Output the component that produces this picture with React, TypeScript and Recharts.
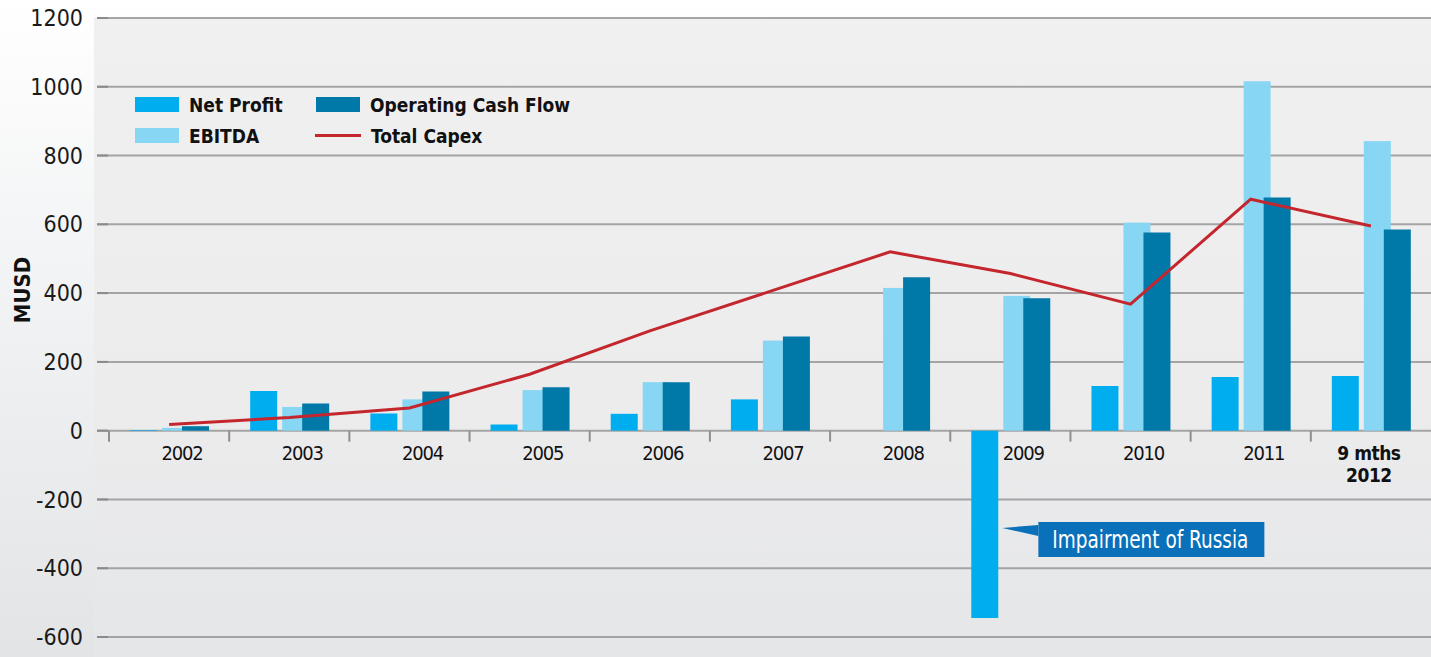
import React from 'react';
import {
  ComposedChart,
  Bar,
  Line,
  XAxis,
  YAxis,
  CartesianGrid,
  Legend,
  ReferenceDot,
  Label,
} from 'recharts';

// ---------- data ----------
const categories = ['2002', '2003', '2004', '2005', '2006', '2007', '2008', '2009', '2010', '2011', '9 mths\n2012'];
const netProfit = [2, 115, 50, 18, 49, 91, 0, -545, 130, 156, 159];
const ebitda = [8, 69, 91, 118, 141, 262, 415, 392, 605, 1016, 842];
const operatingCashFlow = [13, 79, 114, 126, 141, 274, 446, 385, 576, 678, 585];
const totalCapex = [18, 38, 66, 164, 290, 405, 520, 457, 368, 673, 595];
const yTicks = [-600, -400, -200, 0, 200, 400, 600, 800, 1000, 1200];
const annotationText = 'Impairment of Russia';
const annotationCategory = '2009';
const annotationValue = -283;
const legendOrder = ['netProfit', 'ebitda', 'operatingCashFlow', 'totalCapex'];

const data = categories.map((c, i) => ({
  category: c,
  netProfit: netProfit[i],
  ebitda: ebitda[i],
  operatingCashFlow: operatingCashFlow[i],
  totalCapex: totalCapex[i],
}));

// ---------- layout / style ----------
const W = 1431;
const H = 657;
const Y_AXIS_W = 97;
const X_PAD_LEFT = 12;
const HALF_BAND = (W - Y_AXIS_W - X_PAD_LEFT) / categories.length / 2;

const NARROW = '"Liberation Sans Narrow", "Arial Narrow", "DejaVu Sans Condensed", sans-serif';
const COND = '"DejaVu Sans Condensed", "DejaVu Sans", sans-serif';

const C_NP = '#00aeef';
const C_EBITDA = '#87d6f3';
const C_OCF = '#0079a8';
const C_CAPEX = '#c4262e';
const C_NOTE = '#0a70b9';

const CategoryTick = (props: any) => {
  const { cx, cy, label } = props;
  const lines = String(label).split('\n');
  const multi = lines.length > 1;
  const tx = multi ? cx - 2 : cx + 13;
  return (
    <g>
      <line x1={cx - HALF_BAND} x2={cx - HALF_BAND} y1={cy} y2={cy + 11} stroke="#8f8f8f" strokeWidth={2} />
      {lines.map((l, i) => (
        <text
          key={i}
          x={tx}
          y={cy + 29 + i * 22}
          textAnchor="middle"
          fontFamily={COND}
          fontSize={multi ? 19 : 20}
          letterSpacing={multi ? -0.5 : -1.2}
          fontWeight={multi ? 'bold' : 'normal'}
          fill="#111"
        >
          {l}
        </text>
      ))}
    </g>
  );
};

const Annotation = (props: any) => {
  const { cx, cy } = props;
  const bx = cx + 28;
  const bw = 226;
  return (
    <g>
      <polygon points={`${cx - 8},${cy} ${bx},${cy - 3} ${bx},${cy + 8}`} fill={C_NOTE} />
      <rect x={bx} y={cy - 6} width={bw} height={35} fill={C_NOTE} />
      <text
        x={bx + 14}
        y={cy + 20}
        textAnchor="start"
        fontFamily={COND}
        fontSize={24}
        textLength={196}
        lengthAdjust="spacingAndGlyphs"
        fill="#ffffff"
      >
        {annotationText}
      </text>
    </g>
  );
};

const EbitdaShape = (props: any) => {
  const { x, y, width, height, fill } = props;
  if (!height) return null;
  return <rect x={x + 6} y={y} width={width} height={height} fill={fill} />;
};

const MusdLabel = (props: any) => {
  const vb = props.viewBox || { x: 0, y: 18 };
  const x = vb.x + 22;
  const y = vb.y + 272;
  return (
    <text
      x={x}
      y={y}
      transform={`rotate(-90, ${x}, ${y})`}
      textAnchor="middle"
      dominantBaseline="central"
      fontFamily={COND}
      fontStretch="condensed"
      fontWeight="bold"
      fontSize={22}
      fill="#111"
    >
      MUSD
    </text>
  );
};

const LegendContent = (props: any) => {
  const payload = props.payload || [];
  const items = legendOrder
    .map((k) => payload.find((p: any) => p.dataKey === k))
    .filter(Boolean);
  return (
    <div
      style={{
        display: 'grid',
        gridTemplateColumns: '181px auto',
        gridTemplateRows: '31px 31px',
        gridAutoFlow: 'column',
        fontFamily: COND,
        fontStretch: 'condensed',
        fontWeight: 'bold',
        fontSize: 19,
        color: '#111',
      }}
    >
      {items.map((it: any) => (
        <div key={it.dataKey} style={{ display: 'flex', alignItems: 'center' }}>
          {it.type === 'line' ? (
            <span style={{ display: 'inline-block', width: 46, height: 3, background: it.color, marginLeft: -1 }} />
          ) : (
            <span style={{ display: 'inline-block', width: 44, height: 15, background: it.color }} />
          )}
          <span style={{ marginLeft: 10, whiteSpace: 'nowrap' }}>{it.value}</span>
        </div>
      ))}
    </div>
  );
};

export default function App() {
  return (
    <div
      style={{
        position: 'absolute',
        left: 0,
        top: 0,
        width: W,
        height: H,
        overflow: 'hidden',
        background: 'linear-gradient(180deg, #ffffff 0%, #f4f5f6 35%, #e2e4e6 100%)',
      }}
    >
      <div
        style={{
          position: 'absolute',
          left: 94,
          top: 17,
          width: W - 94,
          height: H - 17,
          background: 'linear-gradient(180deg, #f0f0f0 0%, #ececed 60%, #e5e6e8 100%)',
        }}
      />
      <div style={{ position: 'absolute', left: 0, top: 0 }}>
        <ComposedChart
          width={W}
          height={H}
          data={data}
          margin={{ top: 18, right: 0, bottom: 20, left: 0 }}
          barGap={-1}
        >
          <CartesianGrid vertical={false} stroke="#a4a4a4" strokeWidth={2} />
          <XAxis dataKey="category" hide padding={{ left: X_PAD_LEFT, right: 0 }} />
          <YAxis
            width={Y_AXIS_W}
            domain={[-600, 1200]}
            ticks={yTicks}
            interval={0}
            axisLine={false}
            tickSize={-11}
            tickMargin={25}
            tickLine={{ stroke: '#8a8a8a', strokeWidth: 2 }}
            tick={{ fontFamily: NARROW, fontSize: 23, fill: '#1a1a1a' }}
          >
            <Label content={MusdLabel} />
          </YAxis>
          <Legend
            layout="vertical"
            align="center"
            verticalAlign="middle"
            wrapperStyle={{ left: 135, top: 89, width: 'auto' }}
            content={LegendContent}
          />
          <Bar dataKey="netProfit" name="Net Profit" fill={C_NP} barSize={27} isAnimationActive={false} />
          <Bar dataKey="ebitda" name="EBITDA" fill={C_EBITDA} barSize={27} shape={EbitdaShape} isAnimationActive={false} />
          <Bar dataKey="operatingCashFlow" name="Operating Cash Flow" fill={C_OCF} barSize={27} isAnimationActive={false} />
          <Line
            dataKey="totalCapex"
            name="Total Capex"
            type="linear"
            stroke={C_CAPEX}
            strokeWidth={3}
            dot={false}
            activeDot={false}
            isAnimationActive={false}
          />
          {categories.map((c) => (
            <ReferenceDot
              key={c}
              x={c}
              y={0}
              r={0}
              ifOverflow="visible"
              shape={(p: any) => <CategoryTick {...p} label={c} />}
            />
          ))}
          <ReferenceDot
            x={annotationCategory}
            y={annotationValue}
            r={0}
            ifOverflow="visible"
            shape={(p: any) => <Annotation {...p} />}
          />
        </ComposedChart>
      </div>
    </div>
  );
}
